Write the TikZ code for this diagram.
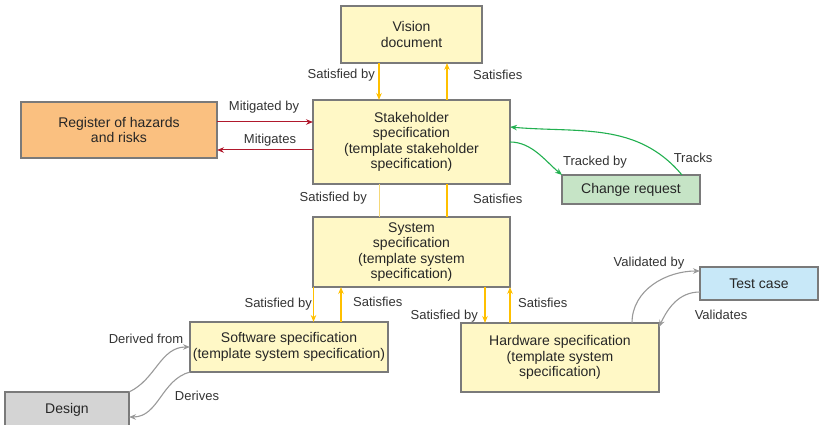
\documentclass[tikz,border=0pt]{standalone}
\usepackage{fontspec}
\setmainfont{Liberation Sans}
\usetikzlibrary{arrows.meta}
\definecolor{boxyellow}{HTML}{FFF8C6}
\definecolor{boxorange}{HTML}{FAC080}
\definecolor{boxgreen}{HTML}{C6E4C6}
\definecolor{boxblue}{HTML}{C8E8F8}
\definecolor{boxgray}{HTML}{D4D4D4}
\definecolor{edgegray}{HTML}{7A7A7A}
\definecolor{arryellow}{HTML}{FFC000}
\definecolor{arrpale}{HTML}{F5D878}
\definecolor{arrred}{HTML}{B0182C}
\definecolor{arrgreen}{HTML}{22B050}
\definecolor{arrgray}{HTML}{999999}
\tikzset{
  box/.style={draw=edgegray, line width=1.2pt, inner sep=0pt, outer sep=0pt, align=center,
    font=\fontsize{14}{15.3}\selectfont, text=black!85},
  lbl/.style={inner sep=0pt, font=\fontsize{13}{15}\selectfont, text=black!80},
  tip/.style={-{Stealth[length=7pt,width=5.5pt]}},
  yarr/.style={tip, draw=arryellow, fill=arryellow, line width=1.1pt},
  yline/.style={draw=arryellow, line width=1.2pt},
  pline/.style={draw=arrpale, line width=1pt},
  rarr/.style={tip, draw=arrred, fill=arrred, line width=1pt},
  garr/.style={tip, draw=arrgreen, line width=1.1pt},
  grarr/.style={tip, draw=arrgray, line width=1.1pt},
}
\begin{document}
\begin{tikzpicture}[x=1pt,y=1pt]
\useasboundingbox (0,0) rectangle (819,425);
% boxes
\node[box, fill=boxyellow, minimum width=141pt, minimum height=57pt] (vision) at (411.5,390.5) {\fontsize{14}{18}\selectfont Vision\\document};
\node[box, fill=boxyellow, minimum width=197pt, minimum height=84pt] (stake) at (411.5,283) {Stakeholder\\specification\\(template stakeholder\\specification)};
\node[box, fill=boxorange, minimum width=196pt, minimum height=56pt] (reg) at (119,295) {Register of hazards\\and risks};
\node[box, fill=boxgreen, minimum width=138pt, minimum height=29pt] (chg) at (631,235.5) {Change request};
\node[box, fill=boxyellow, minimum width=197pt, minimum height=70pt] (sys) at (411.5,173) {System\\specification\\(template system\\specification)};
\node[box, fill=boxyellow, minimum width=198pt, minimum height=50pt] (soft) at (289,78) {Software specification\\(template system specification)};
\node[box, fill=boxyellow, minimum width=198pt, minimum height=69pt] (hard) at (560,67.5) {Hardware specification\\(template system\\specification)};
\node[box, fill=boxblue, minimum width=118pt, minimum height=33pt] (test) at (759,141.5) {Test case};
\node[box, fill=boxgray, minimum width=124pt, minimum height=36pt] (design) at (67,15) {Design};
% vision - stakeholder
\draw[yarr] ([xshift=-32.5pt]vision.south) -- ([xshift=-32.5pt]stake.north);
\draw[yarr] ([xshift=35.5pt]stake.north) -- ([xshift=35.5pt]vision.south);
\node[lbl, anchor=east] (l1) at (375,350) {Satisfied by};
\node[lbl, anchor=west] (l2) at (473,350) {Satisfies};
% register - stakeholder
\draw[rarr] ([yshift=8pt]reg.east) -- ([yshift=20pt]stake.west);
\draw[rarr] ([yshift=-8pt]stake.west) -- ([yshift=-20pt]reg.east);
\node[lbl] (l3) at (264,318) {Mitigated by};
\node[lbl] (l4) at (270,285) {Mitigates};
% stakeholder - change request
\draw[garr] (stake.east) to[out=0,in=140,looseness=0.9] (chg.north west);
\draw[garr] ([xshift=51pt]chg.north) to[out=130,in=-5,looseness=1] ([yshift=15pt]stake.east);
\node[lbl] (l5) at (595,263) {Tracked by};
\node[lbl] (l6) at (693,267) {Tracks};
% stakeholder - system
\draw[pline] ([xshift=-32.5pt]stake.south) -- ([xshift=-32.5pt]sys.north);
\draw[yline] ([xshift=35.5pt]stake.south) -- ([xshift=35.5pt]sys.north);
\node[lbl, anchor=east] (l7) at (367,227) {Satisfied by};
\node[lbl, anchor=west] (l8) at (473,226) {Satisfies};
% system - software
\draw[yarr] ([xshift=-98pt]sys.south) -- ([xshift=24.5pt]soft.north);
\draw[yarr] ([xshift=52pt]soft.north) -- ([xshift=-70.5pt]sys.south);
\node[lbl, anchor=east] (l9) at (312,121) {Satisfied by};
\node[lbl, anchor=west] (l10) at (353,123) {Satisfies};
% system - hardware
\draw[yarr] ([xshift=73.5pt]sys.south) -- ([xshift=-75pt]hard.north);
\draw[yarr] ([xshift=-50pt]hard.north) -- (sys.south east);
\node[lbl, anchor=east] (l11) at (478,109) {Satisfied by};
\node[lbl, anchor=west] (l12) at (518,122) {Satisfies};
% hardware - test case
\draw[grarr] ([xshift=72pt]hard.north) to[out=90,in=180] ([yshift=12.5pt]test.west);
\draw[grarr] ([yshift=-8.5pt]test.west) to[out=180,in=65] ([yshift=-4pt]hard.north east);
\node[lbl] (l13) at (649,162) {Validated by};
\node[lbl] (l14) at (721,110) {Validates};
% software - design
\draw[grarr] (design.north east) to[out=25,in=180] (soft.west);
\draw[grarr] (soft.south west) to[out=195,in=0] ([yshift=-7pt]design.east);
\node[lbl] (l15) at (146,86) {Derived from};
\node[lbl] (l16) at (197,29) {Derives};
\end{tikzpicture}
\end{document}
